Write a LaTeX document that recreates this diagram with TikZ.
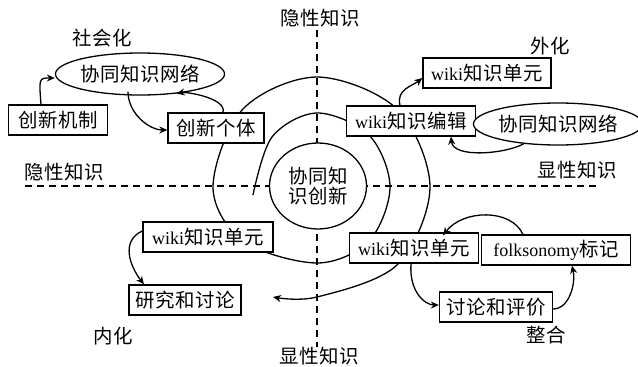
\documentclass[tikz,border=0pt]{standalone}
\usepackage{fontspec}
\setmainfont{Liberation Serif}
\newfontfamily\cjk{Noto Sans CJK SC}[Scale=1.08,LetterSpace=3]
\usetikzlibrary{shapes.geometric,arrows.meta}
\begin{document}
\begin{tikzpicture}[x=1pt,y=-1pt,
  every node/.style={font=\fontsize{18}{20}\selectfont},
  box/.style={draw, line width=1.3pt, fill=white, minimum height=30pt, inner sep=0pt},
  ell/.style={ellipse, draw, line width=1.3pt, fill=white, minimum width=142pt, minimum height=42pt, inner sep=0pt},
  lbl/.style={inner sep=0pt},
  arr/.style={line width=1.3pt, -{Stealth[length=8pt,width=7pt]}},
  spiralline/.style={line width=1.3pt, -{Stealth[length=8pt,width=7pt]}},
  axisline/.style={line width=1.2pt, dash pattern=on 7pt off 5pt}]
\useasboundingbox (0,0) rectangle (638,367);
% axes
\coordinate (vt) at (317,30);
\coordinate (vb) at (317,347);
\coordinate (hl) at (25,186);
\coordinate (hr) at (598,186);
\draw[axisline] (vt) -- (vb);
\draw[axisline] (hl) -- (hr);
% spiral
\draw[spiralline] plot[smooth, tension=0.55] coordinates {(253,195) (272,137) (317,113) (369,135) (390,187) (369,241) (317,263) (243,241) (213,187) (243,109) (317,77) (397,109) (430,187) (397,265) (317,297) (273,297)};
% centre
\node[ellipse, draw, line width=1.3pt, fill=white, minimum width=97pt, minimum height=86pt, inner sep=0pt, align=center] (core) at (318,186) {\cjk 协同知\\\cjk 识创新};
% socialisation
\node[ell] (e1) at (140,74) {\cjk 协同知识网络};
\node[box, minimum width=99pt] (mech) at (58,120) {\cjk 创新机制};
\node[box, minimum width=96pt] (indiv) at (216,128) {\cjk 创新个体};
% externalisation
\node[box, minimum width=128pt] (unit1) at (487,73) {wiki{\cjk 知识单元}};
\node[box, minimum width=129pt] (edit) at (411,121) {wiki{\cjk 知识编辑}};
\node[ell] (e2) at (558,124) {\cjk 协同知识网络};
% combination
\node[box, minimum width=129pt] (unit2) at (414,248) {wiki{\cjk 知识单元}};
\node[box, minimum width=149pt] (folk) at (556,250) {folksonomy{\cjk 标记}};
\node[box, minimum width=113pt] (disc) at (496,307) {\cjk 讨论和评价};
% internalisation
\node[box, minimum width=130pt] (unit3) at (208,237) {wiki{\cjk 知识单元}};
\node[box, minimum width=112pt] (res) at (185,300) {\cjk 研究和讨论};
% arrows
\draw[arr] ([xshift=-17pt]mech.north) .. controls +(-2,-26) and +(-16,0) .. ([yshift=-4pt]e1.west);
\draw[arr] ([xshift=-12pt,yshift=4pt]e1.south) .. controls +(0,22) and +(-18,0) .. ([yshift=-2pt]indiv.west);
\draw[arr] ([xshift=7pt]indiv.north) .. controls +(4,-14) and +(10,-2) .. (e1.-28);
\draw[arr] ([xshift=-11pt]edit.north) .. controls +(-4,-16) and +(-10,8) .. ([yshift=-5pt]unit1.west);
\draw[arr] (e2.-150) .. controls +(-18,10) and +(2,22) .. ([xshift=40pt]edit.south);
\draw[arr] ([xshift=-33pt]folk.north) .. controls +(-12,-26) and +(20,-26) .. ([xshift=29pt,yshift=-3pt]unit2.north);
\draw[arr] ([xshift=-3pt]unit2.south) .. controls +(-2,28) and +(-14,0) .. ([yshift=2pt]disc.west);
\draw[arr] ([yshift=-2pt]disc.east) .. controls +(16,0) and +(4,18) .. ([xshift=16pt]folk.south);
\draw[arr] ([yshift=6pt]unit3.west) .. controls +(-22,10) and +(-14,-18) .. ([xshift=-41pt]res.north);
% labels
\node[lbl] (tTop) at (320,18) {\cjk 隐性知识};
\node[lbl] (tBot) at (319,356) {\cjk 显性知识};
\node[lbl] (tLeft) at (64,172) {\cjk 隐性知识};
\node[lbl] (tRight) at (577,170) {\cjk 显性知识};
\node[lbl] (qSoc) at (102,38) {\cjk 社会化};
\node[lbl] (qExt) at (550,46) {\cjk 外化};
\node[lbl] (qInt) at (113,336) {\cjk 内化};
\node[lbl] (qCom) at (546,335) {\cjk 整合};
\end{tikzpicture}
\end{document}
